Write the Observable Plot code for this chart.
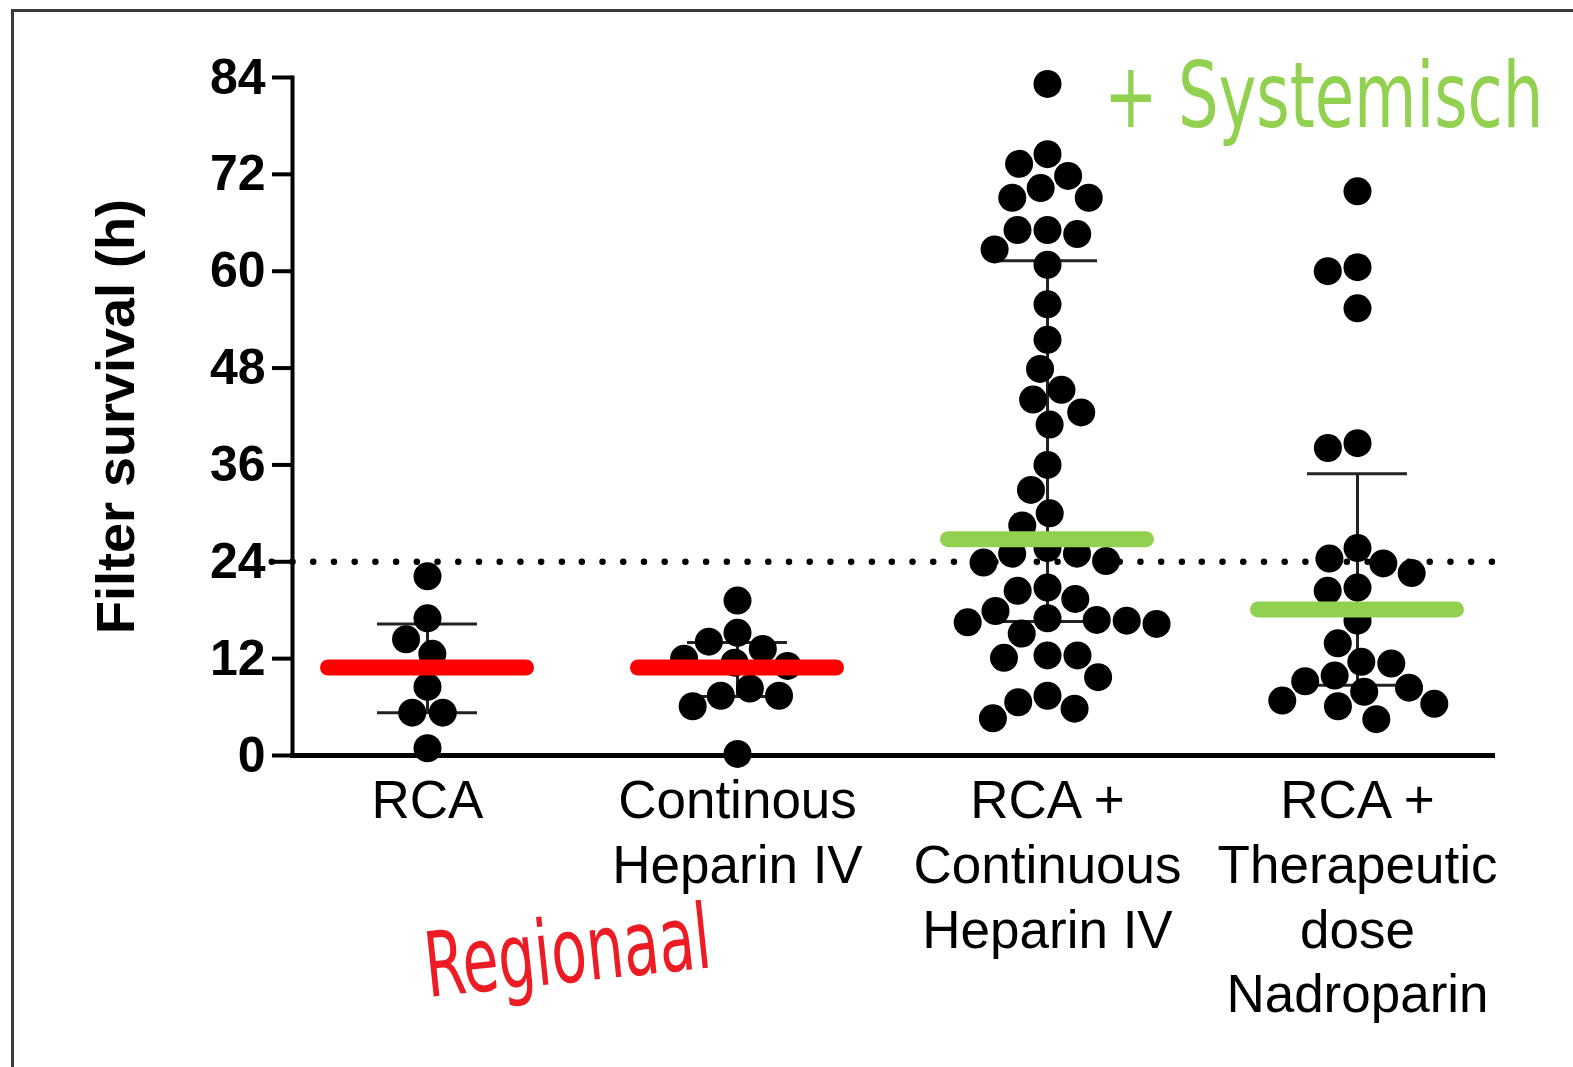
<!DOCTYPE html>
<html>
<head>
<meta charset="utf-8">
<script src="https://cdn.jsdelivr.net/npm/d3@7"></script>
<script src="https://cdn.jsdelivr.net/npm/@observablehq/plot@0.6"></script>
<style>
  html, body { margin: 0; padding: 0; background: #fff; overflow: hidden; }
  #wrap { position: relative; width: 1573px; height: 1067px; overflow: hidden; }
  #border { position: absolute; left: 11px; top: 9px; width: 3000px; height: 3000px;
            border-top: 3px solid #3a3a3a; border-left: 3px solid #3a3a3a; box-sizing: border-box; }
  #chart { position: absolute; left: 0; top: 0; }
  #notes { position: absolute; left: 0; top: 0; pointer-events: none; }
</style>
</head>
<body>
<div id="wrap">
  <div id="border"></div>
  <div id="chart"></div>
  <svg id="notes" width="1573" height="1067"></svg>
</div>
<script>
// ---- data ----
const groups = ["RCA", "Continous Heparin IV", "RCA + Continuous Heparin IV", "RCA + Therapeutic dose Nadroparin"];
const groupLabels = ["RCA", "Continous\nHeparin IV", "RCA +\nContinuous\nHeparin IV", "RCA +\nTherapeutic\ndose\nNadroparin"];
const anticoagulation = ["Regionaal", "Regionaal", "Systemisch", "Systemisch"];

const rca = [22.2, 17.0, 14.4, 12.6, 8.5, 5.3, 5.3, 0.9];
const heparin = [19.2, 15.2, 14.1, 13.2, 12.0, 11.5, 11.1, 8.3, 7.4, 7.4, 6.1, 0.2];
const rcaHeparin = [83.2, 74.5, 73.3, 71.8, 70.3, 69.1, 69.1, 65.1, 65.1, 64.6, 62.7, 60.8, 55.9, 51.5,
  47.9, 45.3, 44.1, 42.5, 41.0, 36.0, 32.9, 30.0, 28.5, 25.7, 25.0, 25.0, 24.1, 23.9, 20.8, 20.4, 19.4,
  17.9, 17.0, 16.8, 16.7, 16.5, 16.3, 15.1, 12.4, 12.4, 12.1, 9.7, 7.4, 6.6, 5.8, 4.6];
const rcaNadroparin = [69.9, 60.5, 60.0, 55.4, 38.7, 38.1, 25.7, 24.4, 23.8, 22.6, 20.8, 20.4, 16.7,
  13.9, 11.6, 11.4, 9.9, 9.2, 8.4, 7.9, 6.8, 6.4, 6.1, 4.5];

const medians = [10.9, 10.9, 26.8, 18.1];
const q1 = [5.3, 7.3, 16.6, 8.7];
const q3 = [16.3, 14.0, 61.3, 34.9];

const yTicks = [0, 12, 24, 36, 48, 60, 72, 84];
const threshold = [24];
const yTitle = "Filter survival (h)";
const noteSystemic = "+ Systemisch";
const noteRegional = "Regionaal";

// ---- tables built from the arrays ----
const series = [rca, heparin, rcaHeparin, rcaNadroparin];
const points = groups.flatMap((g, i) => series[i].map(v => ({group: g, value: v})));
const stats = groups.map((g, i) => ({group: g, median: medians[i], q1: q1[i], q3: q3[i], kind: anticoagulation[i]}));
const labelOf = new Map(groups.map((g, i) => [g, groupLabels[i]]));

const chart = Plot.plot({
  width: 1573,
  height: 1067,
  marginTop: 77,
  marginBottom: 312,
  marginLeft: 290,
  marginRight: 80,
  style: {fontFamily: "'Liberation Sans', Arial, sans-serif", background: "transparent", color: "#000"},
  fx: {domain: groups, paddingInner: 0.13, paddingOuter: 0, label: null},
  x: {axis: null},
  y: {domain: [0, 84], label: null},
  color: {domain: ["Regionaal", "Systemisch"], range: ["#ff0000", "#92d050"]},
  marks: [
    // dotted 24 h line, extended across the gaps between the facets (period = facet step / 15)
    Plot.ruleY(threshold, {stroke: "#000", strokeWidth: 6.5, strokeDasharray: "0 20.72", strokeLinecap: "round", insetLeft: -20.2, insetRight: -20.2}),
    Plot.ruleX(stats, {fx: "group", x: null, y1: "q1", y2: "q3", stroke: "#222", strokeWidth: 3}),
    Plot.tickY(stats, {fx: "group", y: "q1", stroke: "#222", strokeWidth: 3, insetLeft: 85, insetRight: 85}),
    Plot.tickY(stats, {fx: "group", y: "q3", stroke: "#222", strokeWidth: 3, insetLeft: 85, insetRight: 85}),
    Plot.dot(points, Plot.dodgeX({anchor: "middle", padding: 2}, {fx: "group", y: "value", r: 14, fill: "#000"})),
    Plot.tickY(stats, {fx: "group", y: "median", stroke: "kind", strokeWidth: 16, strokeLinecap: "round", insetLeft: 36, insetRight: 36}),
    Plot.frame({anchor: "left", facet: "super", stroke: "#000", strokeWidth: 4}),
    Plot.frame({anchor: "bottom", facet: "super", stroke: "#000", strokeWidth: 5}),
    Plot.axisY({ticks: yTicks, tickSize: 20, tickPadding: 7, strokeWidth: 4, fontSize: 50, fontWeight: "bold", label: null}),
    Plot.axisY({ticks: [], label: yTitle, labelAnchor: "center", labelArrow: "none", labelOffset: 197, fontSize: 54, fontWeight: "bold"}),
    Plot.axisFx({anchor: "bottom", tickSize: 0, tickPadding: 17, fontSize: 53, lineHeight: 1.22, tickFormat: d => labelOf.get(d), label: null})
  ]
});
document.getElementById("chart").appendChild(chart);

// handwritten-style annotations (narrowed with a horizontal scale)
const notes = d3.select("#notes");
notes.append("text")
  .attr("transform", "translate(1104,127) scale(0.79,1)")
  .attr("font-family", "'DejaVu Sans Condensed', 'DejaVu Sans', sans-serif")
  .attr("font-size", 90).attr("fill", "#92d050")
  .text(noteSystemic);
notes.append("text")
  .attr("transform", "translate(428,997) rotate(-6) scale(0.72,1)")
  .attr("font-family", "'DejaVu Sans Condensed', 'DejaVu Sans', sans-serif")
  .attr("font-size", 90).attr("fill", "#ed1c24")
  .text(noteRegional);
</script>
</body>
</html>
